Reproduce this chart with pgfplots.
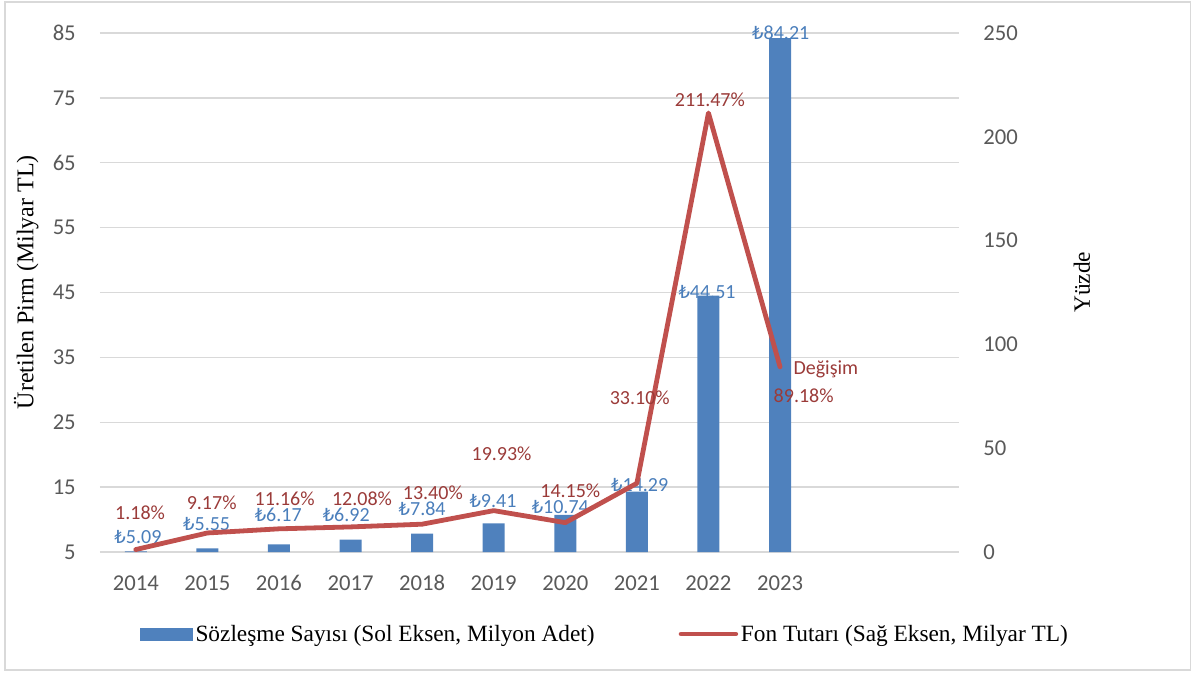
\documentclass[border=0pt]{standalone}
\usepackage{fontspec}
\setmainfont{Liberation Serif}
\newfontfamily\calibri{Carlito}
\newfontfamily\dejavu{DejaVu Sans}
\newcommand\TL{{\dejavu\fontsize{13.5}{16}\selectfont ₺}}
\usepackage{pgfplots}
\pgfplotsset{compat=1.18}
\definecolor{barblue}{HTML}{4F81BD}
\definecolor{linered}{HTML}{C0504D}
\definecolor{labred}{HTML}{9B3B39}
\definecolor{labblue}{HTML}{4A7EBB}
\definecolor{tickgray}{HTML}{595959}
\definecolor{gridgray}{HTML}{D9D9D9}

\pgfplotstableread{
x y
0 5.09
1 5.55
2 6.17
3 6.92
4 7.84
5 9.41
6 10.74
7 14.29
8 44.51
9 84.21
}\bars

\pgfplotstableread{
x y
0 1.18
1 9.17
2 11.16
3 12.08
4 13.40
5 19.93
6 14.15
7 33.10
8 211.47
9 89.18
}\change

\pgfplotstableread{
x y lab
0.03 7.31 \TL5.09
0.99 9.32 \TL5.55
1.99 10.70 \TL6.17
2.94 10.70 \TL6.92
4.00 11.63 \TL7.84
4.99 12.86 \TL9.41
5.93 11.94 \TL10.74
7.04 15.33 \TL14.29
7.98 45.08 \TL44.51
9.01 85.00 \TL84.21
}\barlabels

\pgfplotstableread{
x y lab
0.06 18.8 1.18\%
1.06 23.6 9.17\%
2.08 25.5 11.16\%
3.16 25.5 12.08\%
4.15 28.4 13.40\%
5.11 47.2 19.93\%
6.07 29.4 14.15\%
7.04 74.2 33.10\%
8.02 217.7 211.47\%
9.64 88.2 Değişim
9.33 75.1 89.18\%
}\linelabels

\begin{document}
\begin{tikzpicture}
\useasboundingbox (0pt,0pt) rectangle (896.25pt,506.25pt);
\draw[gridgray, line width=0.9pt] (3.75pt,3.75pt) rectangle (893pt,504.75pt);

\begin{axis}[
  at={(75pt,92.25pt)}, anchor=south west,
  width=644.25pt, height=389.25pt, scale only axis,
  xmin=-0.5, xmax=11.5, ymin=5, ymax=85,
  xtick={0,1,2,3,4,5,6,7,8,9},
  xticklabels={2014,2015,2016,2017,2018,2019,2020,2021,2022,2023},
  ytick={5,15,25,35,45,55,65,75,85},
  ymajorgrids, grid style={gridgray, line width=1.1pt},
  axis line style={draw=none},
  major tick length=0pt,
  tick label style={font=\calibri\fontsize{17}{20}\selectfont, text=tickgray, inner sep=0pt},
  xticklabel style={anchor=center, yshift=-23.25pt},
  yticklabel style={anchor=east, xshift=-18pt},
  /pgf/number format/assume math mode=true,
  ylabel={Üretilen Pirm (Milyar TL)},
  ylabel style={font=\fontsize{18}{21}\selectfont, at={(rel axis cs:-0.086,0.52)}, anchor=center},
]
\addplot[ybar, bar width=16.5pt, bar shift=0pt, fill=barblue, draw=none] table[x=x, y=y] {\bars};
\addplot[draw=none, mark=none, nodes near coords, point meta=explicit symbolic,
  every node near coord/.append style={anchor=center, inner sep=0pt, text=labblue, font=\calibri\fontsize{15}{18}\selectfont}]
  table[x=x, y=y, meta=lab] {\barlabels};
\end{axis}

\begin{axis}[
  at={(75pt,92.25pt)}, anchor=south west,
  width=644.25pt, height=389.25pt, scale only axis,
  xmin=-0.5, xmax=11.5, ymin=0, ymax=250,
  axis y line*=right, hide x axis,
  ytick={0,50,100,150,200,250},
  axis line style={draw=none},
  major tick length=0pt,
  tick label style={font=\calibri\fontsize{17}{20}\selectfont, text=tickgray, inner sep=0pt},
  yticklabel style={anchor=west, xshift=18pt},
  /pgf/number format/assume math mode=true,
  ylabel={Yüzde},
  ylabel style={font=\fontsize{17.5}{21}\selectfont, at={(rel axis cs:1.143,0.52)}, anchor=center},
  legend columns=2,
  legend cell align=left,
  legend style={at={(rel axis cs:0.0466,-0.158)}, anchor=west, draw=none, fill=none,
    inner sep=0pt, font=\fontsize{17.5}{20}\selectfont,
    /tikz/every even column/.append style={column sep=61pt}},
]
\addlegendimage{legend image code/.code={\fill[barblue] (0pt,-4.5pt) rectangle (39pt,4.5pt);}}
\addlegendentry{Sözleşme Sayısı (Sol Eksen, Milyon Adet)}
\addplot[linered, line width=3.6pt, line cap=round, line join=round, mark=none,
  legend image code/.code={\draw[linered, line width=3.6pt, line cap=round] (0pt,0pt) -- (41pt,0pt);}]
  table[x=x, y=y] {\change};
\addlegendentry{Fon Tutarı (Sağ Eksen, Milyar TL)}
\addplot[forget plot, draw=none, mark=none, nodes near coords, point meta=explicit symbolic,
  every node near coord/.append style={anchor=center, inner sep=0pt, text=labred, font=\calibri\fontsize{15}{18}\selectfont}]
  table[x=x, y=y, meta=lab] {\linelabels};
\end{axis}
\end{tikzpicture}
\end{document}
